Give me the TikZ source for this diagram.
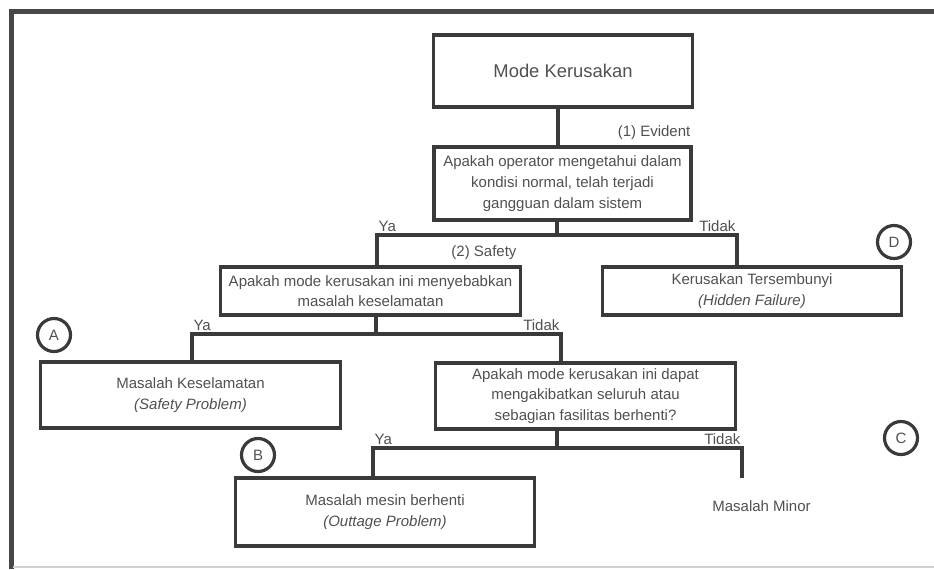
\documentclass[tikz,border=0pt]{standalone}
\usepackage{fontspec}
\setmainfont{Liberation Sans}
\usetikzlibrary{positioning}

\definecolor{linegray}{HTML}{3A3A3A}
\definecolor{textgray}{HTML}{505050}
\definecolor{framegray}{HTML}{474747}

\tikzset{
    box/.style={draw=linegray, line width=2.4pt, minimum width=224.5pt, inner sep=0pt,
        align=center, text=textgray, font=\fontsize{11.25}{15.5}\selectfont},
    lbl/.style={text=textgray, inner sep=1pt, font=\fontsize{11.25}{13.5}\selectfont},
    letter/.style={circle, draw=linegray, line width=2.4pt, minimum size=24.75pt, inner sep=0pt,
        text=textgray, font=\fontsize{11.25}{13.5}\selectfont},
    link/.style={draw=linegray, line width=2.4pt},
}

\begin{document}
\begin{tikzpicture}[x=0.75pt, y=-0.75pt]
    \useasboundingbox (0,0) rectangle (934,569);

    % frame
    \draw[framegray, line width=3.75pt] (11,569) -- (11,11) -- (934,11);
    \draw[black!18, line width=1.5pt] (13,567) -- (934,567);

    % boxes
    \node[box, minimum width=194.25pt, minimum height=54pt, font=\fontsize{13.8}{16}\selectfont]
        (mode) at (563,71) {Mode Kerusakan};
    \node[box, minimum width=192.75pt, minimum height=54.75pt] (evident) at (562.5,183.5)
        {Apakah operator mengetahui dalam\\kondisi normal, telah terjadi\\gangguan dalam sistem};
    \node[box, minimum height=36pt] (safety) at (370.5,291)
        {Apakah mode kerusakan ini menyebabkan\\masalah keselamatan};
    \node[box, minimum height=36pt] (hidden) at (752,291)
        {Kerusakan Tersembunyi\\\textit{(Hidden Failure)}};
    \node[box, minimum height=49.5pt] (safetyprob) at (190.5,395)
        {Masalah Keselamatan\\\textit{(Safety Problem)}};
    \node[box, minimum height=49.5pt] (outage) at (585.5,396)
        {Apakah mode kerusakan ini dapat\\mengakibatkan seluruh atau\\sebagian fasilitas berhenti?};
    \node[box, minimum height=51pt] (outageprob) at (385,512)
        {Masalah mesin berhenti\\\textit{(Outtage Problem)}};
    \node[lbl] (minor) at (761.5,506) {Masalah Minor};

    % questions
    \node[lbl, above left=3.5pt and 0.5pt of evident.north east] (evlbl) {(1) Evident};
    \node[lbl, above left=3.5pt and 2.75pt of safety.north east] (sflbl) {(2) Safety};

    % branch points
    \coordinate (stem0) at (558,120);
    \coordinate (j1) at (557,235);
    \coordinate (ya1) at (377,235);
    \coordinate (tidak1) at (737,235);
    \coordinate (j2) at (376,334);
    \coordinate (ya2) at (192,334);
    \coordinate (tidak2) at (561,334);
    \coordinate (j3) at (557,448);
    \coordinate (ya3) at (373,448);
    \coordinate (tidak3) at (742,448);
    \coordinate (end3) at (742,478);

    % connectors
    \draw[link] (mode.south -| stem0) -- (evident.north -| stem0);
    \draw[link] (evident.south -| j1) -- (j1);
    \draw[link] (safety.north -| ya1) -- (ya1) -- (tidak1) -- (hidden.north -| tidak1);
    \draw[link] (safety.south -| j2) -- (j2);
    \draw[link] (safetyprob.north -| ya2) -- (ya2) -- (tidak2) -- (outage.north -| tidak2);
    \draw[link] (outage.south -| j3) -- (j3);
    \draw[link] (outageprob.north -| ya3) -- (ya3) -- (tidak3) -- (end3);

    % Ya / Tidak
    \node[lbl, above right=1pt and 0pt of ya1] (ya1lbl) {Ya};
    \node[lbl, above left=1pt and 0pt of tidak1] (tidak1lbl) {Tidak};
    \node[lbl, above right=1pt and 0pt of ya2] (ya2lbl) {Ya};
    \node[lbl, above left=1pt and 0pt of tidak2] (tidak2lbl) {Tidak};
    \node[lbl, above right=1pt and 0pt of ya3] (ya3lbl) {Ya};
    \node[lbl, above left=1pt and 0pt of tidak3] (tidak3lbl) {Tidak};

    % letters
    \node[letter] (ltrA) at (54,335) {A};
    \node[letter] (ltrB) at (258,455) {B};
    \node[letter] (ltrC) at (901,438) {C};
    \node[letter] (ltrD) at (894,242) {D};
\end{tikzpicture}
\end{document}
